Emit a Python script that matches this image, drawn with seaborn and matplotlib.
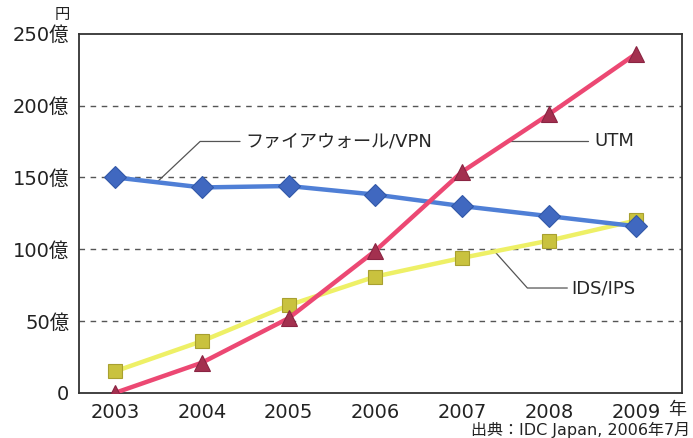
import matplotlib
matplotlib.use("Agg")
import matplotlib.pyplot as plt
import pandas as pd
import seaborn as sns

# 単位: 億円
years = [2003, 2004, 2005, 2006, 2007, 2008, 2009]
firewall_vpn = [150, 143, 144, 138, 130, 123, 116]
utm = [0, 21, 52, 99, 154, 194, 236]
ids_ips = [15, 36, 61, 81, 94, 106, 120]

y_ticks = [0, 50, 100, 150, 200, 250]
y_labels = ["0", "50億", "100億", "150億", "200億", "250億"]

sns.set_style("white")
plt.rcParams["font.family"] = ["DejaVu Sans", "Noto Sans CJK JP"]

df = pd.DataFrame({"year": years, "fw": firewall_vpn, "utm": utm, "ids": ids_ips})

fig = plt.figure(figsize=(6.93, 4.38), dpi=100)
ax = fig.add_axes([0.114, 0.103, 0.870, 0.820])

for y in [50, 100, 150, 200]:
    ax.axhline(y, color="#555555", lw=1.0, ls=(0, (4, 4)), zorder=1)

sns.lineplot(data=df, x="year", y="ids", ax=ax, color="#eef066", lw=3.2,
             marker="s", markersize=10, markerfacecolor="#c9c23e",
             markeredgecolor="#a8a030", markeredgewidth=0.8, zorder=3)
sns.lineplot(data=df, x="year", y="fw", ax=ax, color="#4f7fd6", lw=3.2,
             marker="D", markersize=11, markerfacecolor="#4068c0",
             markeredgecolor="#3258a8", markeredgewidth=0.8, zorder=4)
sns.lineplot(data=df, x="year", y="utm", ax=ax, color="#ec4873", lw=3.2,
             marker="^", markersize=12, markerfacecolor="#a3304f",
             markeredgecolor="#8a2442", markeredgewidth=0.8, zorder=5)

# leader lines and labels
lc = "#555555"
ax.plot([2003.48, 2003.98, 2004.44], [146.5, 175, 175], color=lc, lw=0.9, zorder=2)
ax.text(2004.50, 175, "ファイアウォール/VPN", fontsize=13, va="center", ha="left")
ax.plot([2007.52, 2008.45], [175, 175], color=lc, lw=0.9, zorder=2)
ax.text(2008.52, 175, "UTM", fontsize=13, va="center", ha="left")
ax.plot([2007.38, 2007.75, 2008.21], [98, 73, 73], color=lc, lw=0.9, zorder=2)
ax.text(2008.26, 73, "IDS/IPS", fontsize=13, va="center", ha="left")

ax.set_xlim(2002.585, 2009.53)
ax.set_ylim(0, 250)
ax.set_xticks(years)
ax.set_xticklabels([str(y) for y in years], fontsize=14, color="#222222")
ax.set_yticks(y_ticks)
ax.set_yticklabels(y_labels, fontsize=14, color="#222222")
ax.tick_params(axis="both", length=0)
ax.tick_params(axis="y", pad=7)
ax.tick_params(axis="x", pad=7)
ax.set_xlabel("")
ax.set_ylabel("")

for s in ax.spines.values():
    s.set_visible(True)
    s.set_color("#333333")
    s.set_linewidth(1.3)

fig.text(70 / 693, 1 - 14 / 438, "円", fontsize=11, ha="right", va="center", color="#222222")
fig.text(677 / 693, 1 - 410 / 438, "年", fontsize=13, ha="center", va="center", color="#222222")
fig.text(690 / 693, 1 - 430 / 438, "出典：IDC Japan, 2006年7月", fontsize=11.5,
         ha="right", va="center", color="#222222")

fig.savefig("out.png", dpi=100)
